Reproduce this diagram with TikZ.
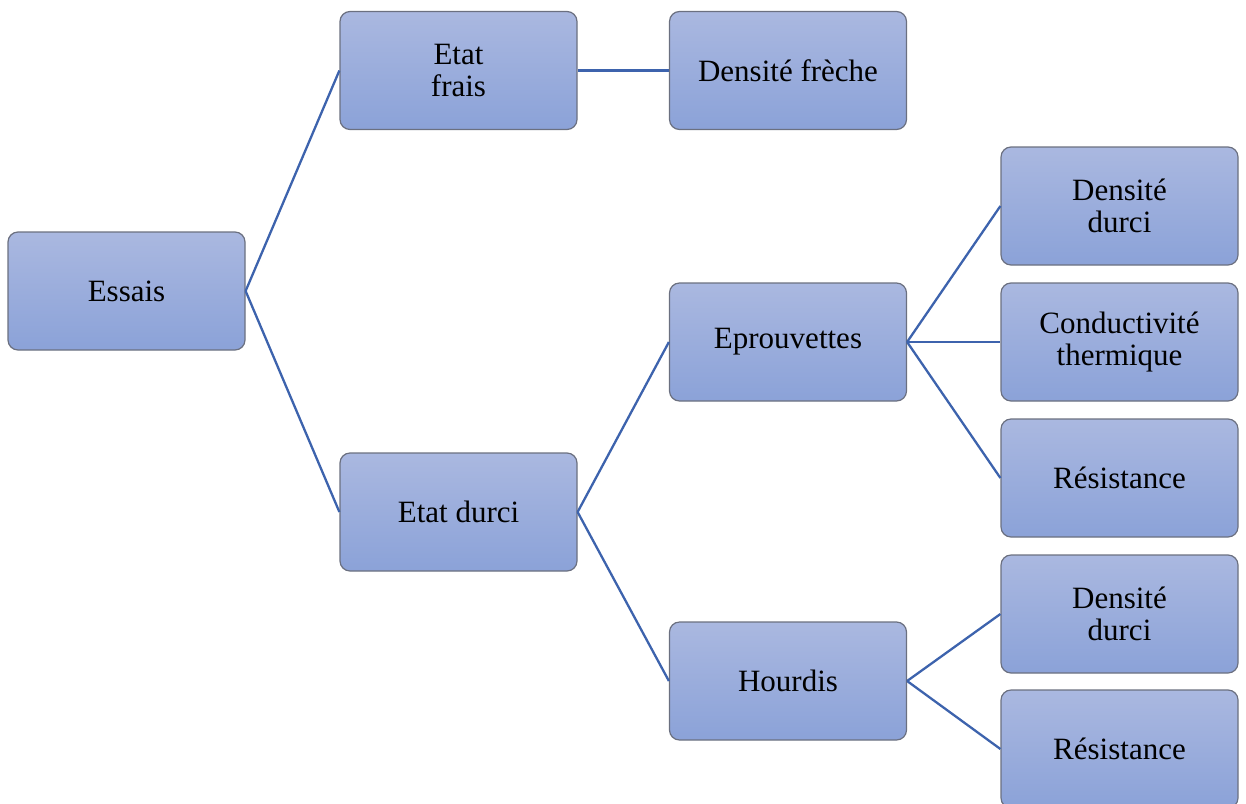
\documentclass[tikz,border=0pt]{standalone}
\usepackage{fontspec}
\setmainfont{Liberation Serif}
\newfontfamily\boxfont{Liberation Serif}
\definecolor{boxtop}{HTML}{AAB8E0}
\definecolor{boxbot}{HTML}{8BA2D8}
\definecolor{boxline}{HTML}{6B7080}
\definecolor{linkc}{HTML}{3D63AD}
\begin{document}
\begin{tikzpicture}[x=1pt,y=-1pt,
  box/.style={draw=boxline, line width=1.2pt, rounded corners=10pt,
    top color=boxtop, bottom color=boxbot,
    minimum width=237pt, minimum height=118pt, inner sep=0pt,
    align=center, font=\boxfont\fontsize{31}{32.5}\selectfont},
  link/.style={draw=linkc, line width=2.3pt}]
\useasboundingbox (0,0) rectangle (1246,803);
\clip (0,0) rectangle (1246,803);
\node[box] (essais) at (126.5,291) {Essais};
\node[box] (frais) at (458.5,70.5) {Etat\\frais};
\node[box] (freche) at (788,70.5) {Densité frèche};
\node[box] (durci) at (458.5,512) {Etat durci};
\node[box] (eprou) at (788,342) {Eprouvettes};
\node[box] (hourdis) at (788,681) {Hourdis};
\node[box] (dd1) at (1119.5,206) {Densité\\durci};
\node[box] (cond) at (1119.5,342) {Conductivité\\thermique};
\node[box] (res1) at (1119.5,478) {Résistance};
\node[box] (dd2) at (1119.5,614) {Densité\\durci};
\node[box] (res2) at (1119.5,749) {Résistance};
\draw[link] (essais.east) -- (frais.west);
\draw[link] (essais.east) -- (durci.west);
\draw[link] (frais.east) -- (freche.west);
\draw[link] (durci.east) -- (eprou.west);
\draw[link] (durci.east) -- (hourdis.west);
\draw[link] (eprou.east) -- (dd1.west);
\draw[link] (eprou.east) -- (cond.west);
\draw[link] (eprou.east) -- (res1.west);
\draw[link] (hourdis.east) -- (dd2.west);
\draw[link] (hourdis.east) -- (res2.west);
\end{tikzpicture}
\end{document}
